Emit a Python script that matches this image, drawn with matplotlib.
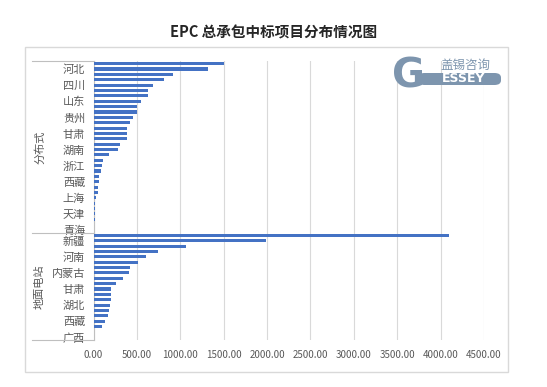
import numpy as np
import matplotlib
matplotlib.use('Agg')
import matplotlib.pyplot as plt
from matplotlib.patches import Rectangle, FancyBboxPatch
from matplotlib.transforms import blended_transform_factory

plt.rcParams['font.family'] = ['Noto Sans CJK SC', 'DejaVu Sans']

# data, top to bottom within each group
group_names = ['分布式', '地面电站']
dist_names = ['山西', '河北', '河南', '陕西', '四川', '江苏', '安徽', '山东', '云南', '内蒙古',
              '贵州', '广东', '湖北', '甘肃', '宁夏', '新疆', '湖南', '江西', '辽宁', '浙江',
              '福建', '广西', '西藏', '吉林', '黑龙江', '上海', '北京', '海南', '天津', '重庆',
              '其他', '青海']
dist_values = [1505, 1320, 917, 813, 686, 630, 626, 548, 503, 500,
               455, 421, 387, 386, 385, 306, 282, 179, 110, 98,
               86, 61, 60, 52, 51, 25, 21, 21, 20, 14,
               3, 1]
ground_names = ['青海', '新疆', '宁夏', '河北', '河南', '山西', '陕西', '内蒙古', '云南', '贵州',
                '甘肃', '山东', '安徽', '湖北', '江苏', '四川', '西藏', '湖南', '江西', '广西']
ground_values = [4100, 1990, 1065, 744, 605, 509, 421, 409, 340, 259,
                 202, 202, 200, 190, 179, 167, 133, 98, 10, 1]
x_ticks = [0, 500, 1000, 1500, 2000, 2500, 3000, 3500, 4000, 4500]

W, H = 547, 387
fig = plt.figure(figsize=(W / 100, H / 100), dpi=100)


def fx(px):
    return px / W


def fy(py):
    return 1 - py / H


ax_l, ax_r, ax_t, ax_b = 93.5, 484, 61, 340
ax = fig.add_axes([fx(ax_l), fy(ax_b), fx(ax_r - ax_l), (ax_b - ax_t) / H])

names = dist_names + ground_names
values = dist_values + ground_values
ypos = np.arange(len(values))
ax.barh(ypos, values, height=0.58, color='#4472C4', zorder=3)

# every third label, counted from the bottom of each group
labels = []
for grp in (dist_names, ground_names):
    n = len(grp)
    labels += [nm if (n - 1 - i) % 3 == 0 else '' for i, nm in enumerate(grp)]
ax.set_yticks(ypos)
ax.set_yticklabels(labels)
ax.set_ylim(len(values) - 0.5, -0.5)
ax.tick_params(axis='y', length=0, pad=6, labelsize=8, labelcolor='#595959')

ax.set_xlim(0, 4500)
ax.set_xticks(x_ticks)
ax.set_xticklabels([f'{v:.2f}' for v in x_ticks])
ax.tick_params(axis='x', length=0, pad=7, labelsize=7, labelcolor='#595959')
ax.grid(axis='x', color='#d9d9d9', lw=0.8, zorder=0)
ax.set_axisbelow(True)

for s in ('top', 'right', 'bottom'):
    ax.spines[s].set_visible(False)
ax.spines['left'].set_color('#bfbfbf')
ax.spines['left'].set_linewidth(0.8)

# multi-level category separators and group labels
tr = blended_transform_factory(fig.transFigure, ax.transData)
n1 = len(dist_names)
for yb in (-0.5, n1 - 0.5, len(values) - 0.5):
    ax.plot([fx(32), fx(ax_l)], [yb, yb], transform=tr, color='#bfbfbf',
            lw=0.8, clip_on=False)
ax.text(fx(40), (n1 - 1) / 2, group_names[0], transform=tr, rotation=90,
        ha='center', va='center', fontsize=8, color='#595959')
ax.text(fx(40), n1 + (len(ground_names) - 1) / 2, group_names[1], transform=tr,
        rotation=90, ha='center', va='center', fontsize=8, color='#595959')

# chart frame and title
fig.patches.append(Rectangle((fx(25), fy(372)), fx(508 - 25), (372 - 47) / H,
                             transform=fig.transFigure, fill=False,
                             ec='#d9d9d9', lw=1))
fig.text(0.5, fy(33), 'EPC 总承包中标项目分布情况图', ha='center', va='center',
         fontsize=10.5, fontweight='bold', color='#262626')

# logo
logo_c = '#7d95ae'
fig.patches.append(FancyBboxPatch((fx(418), fy(85)), fx(83), 12 / H,
                                  boxstyle='round,pad=0,rounding_size=0.012',
                                  transform=fig.transFigure, fc=logo_c, ec='none',
                                  zorder=5))
fig.text(fx(464), fy(79), 'ESSEY', ha='center', va='center', fontsize=9,
         fontweight='bold', color='white', zorder=6, family='DejaVu Sans')
fig.text(fx(465), fy(65), '盖锡咨询', ha='center', va='center', fontsize=9,
         color=logo_c, zorder=6)
fig.text(fx(409), fy(77), 'G', ha='center', va='center', fontsize=29,
         fontweight='bold', color=logo_c, zorder=6, family='DejaVu Sans')

fig.savefig('out.png', dpi=100)
